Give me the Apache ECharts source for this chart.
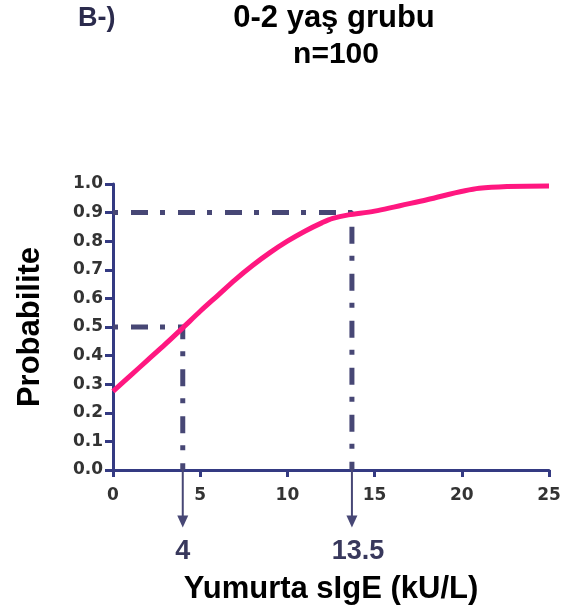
<!DOCTYPE html>
<html><head><meta charset="utf-8">
<script src="https://cdn.jsdelivr.net/npm/echarts@6/dist/echarts.min.js"></script>
<style>html,body{margin:0;padding:0;background:#fff}#c{width:578px;height:615px}</style>
</head><body><div id="c"></div>
<script>
var sIgE = [0, 1, 2, 3, 4, 5, 6, 7, 8, 9, 10, 11, 12, 12.6, 13.5, 15, 18, 21, 25];
var prob = [0.275, 0.33, 0.385, 0.44, 0.497, 0.555, 0.61, 0.665, 0.715, 0.76, 0.80, 0.835, 0.865, 0.88, 0.892, 0.905, 0.945, 0.985, 0.993];
var cutoffX = [4, 13.7];
var cutoffP = [0.5, 0.9];
var cutoffLabels = ['4', '13.5'];
var arrowEnd = -0.18;
var xTicks = [0, 5, 10, 15, 20, 25];

var FONT = '"Liberation Sans", Arial, sans-serif';
var TICKFONT = '"DejaVu Sans", sans-serif';
var guideColor = '#474775';
var axisColor = '#343a82';
var labelOffsets = [[0, 0], [6, 0]];

var series = [{
  type: 'line',
  data: sIgE.map(function (x, i) { return [x, prob[i]]; }),
  showSymbol: false,
  smooth: 0.3,
  lineStyle: { color: '#ff1780', width: 5 },
  z: 5
}];
cutoffX.forEach(function (cx, i) {
  series.push({
    type: 'line',
    data: [[0, cutoffP[i]], [cx, cutoffP[i]], [cx, 0]],
    showSymbol: false,
    lineStyle: { color: guideColor, width: 5, type: [5, 13, 17, 12], dashOffset: 0 },
    z: 3
  });
  series.push({
    type: 'line',
    clip: false,
    data: [
      { value: [cx, 0], symbol: 'none' },
      { value: [cx, arrowEnd], symbol: 'triangle', symbolRotate: 180, symbolSize: [11, 12],
        label: { show: true, position: 'bottom', distance: 11, offset: labelOffsets[i], formatter: cutoffLabels[i],
          fontFamily: FONT, fontWeight: 'bold', fontSize: 27, color: '#38385c' } }
    ],
    showSymbol: true,
    itemStyle: { color: guideColor },
    lineStyle: { color: guideColor, width: 2 },
    z: 4
  });
});

var chart = echarts.init(document.getElementById('c'));
chart.setOption({
  animation: false,
  title: [
    { text: '0-2 yaş grubu', left: 334, top: 3, padding: 0, textAlign: 'center',
      textStyle: { fontFamily: FONT, fontWeight: 'bold', fontSize: 31, color: '#000', lineHeight: 31 } },
    { text: 'n=100', left: 336, top: 40, padding: 0, textAlign: 'center',
      textStyle: { fontFamily: FONT, fontWeight: 'bold', fontSize: 30, color: '#000', lineHeight: 30 } },
    { text: 'B-)', left: 78, top: 5, padding: 0,
      textStyle: { fontFamily: FONT, fontWeight: 'bold', fontSize: 27, color: '#2b2b4d', lineHeight: 27 } }
  ],
  grid: { left: 113, right: 29, top: 184, bottom: 145 },
  xAxis: {
    type: 'value', min: 0, max: 25, interval: 5,
    name: 'Yumurta sIgE (kU/L)', nameLocation: 'middle', nameGap: 104,
    nameTextStyle: { fontFamily: FONT, fontWeight: 'bold', fontSize: 31, color: '#000' },
    axisLine: { show: true, lineStyle: { color: axisColor, width: 3 } },
    axisTick: { show: true, length: 7, lineStyle: { color: axisColor, width: 3 } },
    axisLabel: { fontFamily: TICKFONT, fontWeight: 'bold', fontSize: 17, color: '#333', margin: 17,
      formatter: function (v) { return xTicks.indexOf(v) >= 0 ? String(v) : ''; } },
    splitLine: { show: false }
  },
  yAxis: {
    type: 'value', min: 0, max: 1, interval: 0.1,
    name: 'Probabilite', nameLocation: 'middle', nameGap: 67,
    nameTextStyle: { fontFamily: FONT, fontWeight: 'bold', fontSize: 31, color: '#000' },
    axisLine: { show: true, lineStyle: { color: axisColor, width: 3 } },
    axisTick: { show: true, length: 8, lineStyle: { color: axisColor, width: 3 } },
    axisLabel: { fontFamily: TICKFONT, fontWeight: 'bold', fontSize: 17, color: '#333', margin: 10,
      formatter: function (v) { return v.toFixed(1); } },
    splitLine: { show: false }
  },
  series: series
});
</script></body></html>
